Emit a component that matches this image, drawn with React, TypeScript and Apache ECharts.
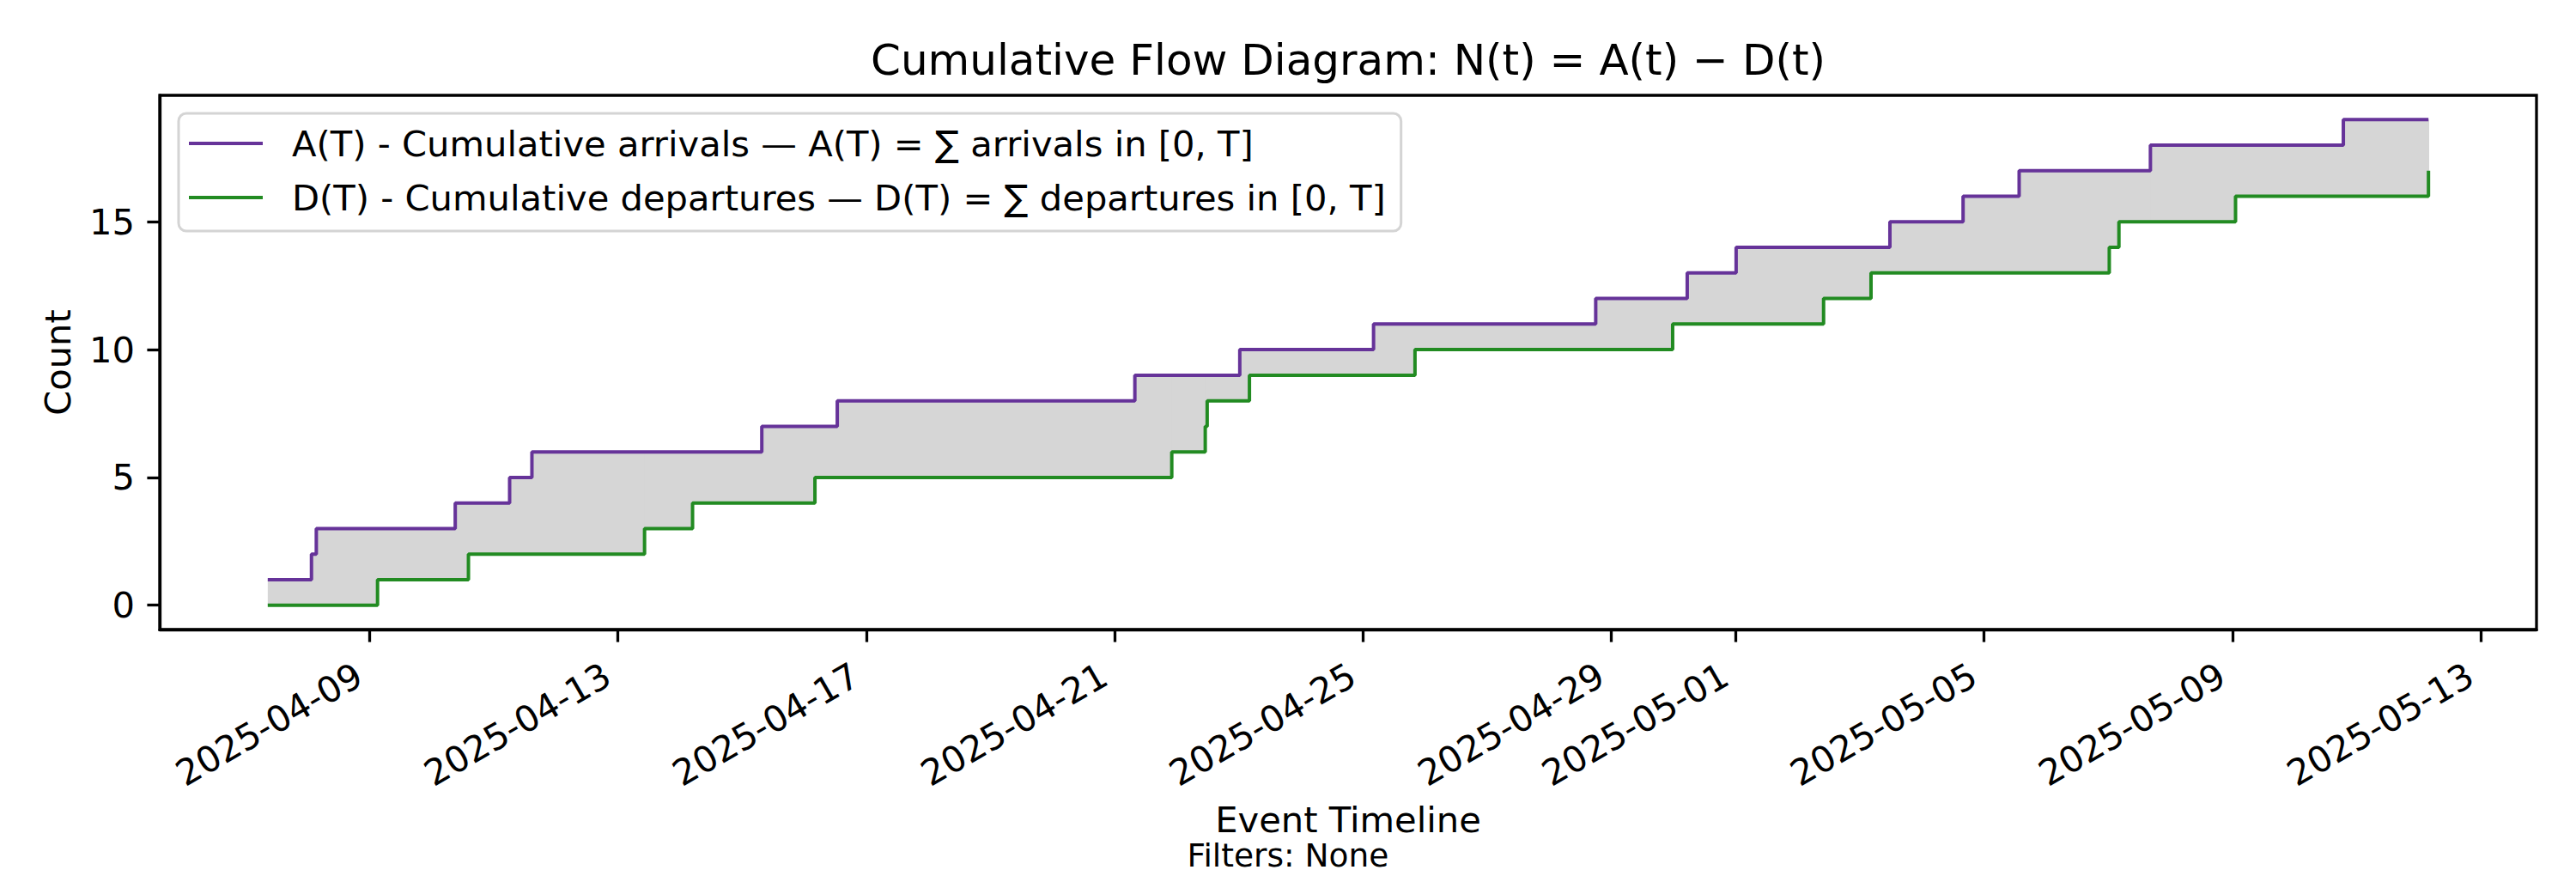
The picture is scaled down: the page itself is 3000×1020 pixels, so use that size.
import React, { useEffect, useRef } from "react";
import * as echarts from "echarts";

const FONT = "DejaVu Sans";

// Event times (UTC, minute precision)
const arrivalTimes = [
  "2025-04-07T08:41", "2025-04-08T01:35", "2025-04-08T03:27", "2025-04-10T09:09",
  "2025-04-11T06:10", "2025-04-11T14:47", "2025-04-15T07:38", "2025-04-16T12:48",
  "2025-04-21T07:49", "2025-04-23T00:22", "2025-04-25T04:04", "2025-04-28T17:56",
  "2025-04-30T05:18", "2025-05-01T00:12", "2025-05-03T11:38", "2025-05-04T15:55",
  "2025-05-05T13:35", "2025-05-07T16:19", "2025-05-10T18:53",
];
const departureTimes = [
  "2025-04-09T03:07", "2025-04-10T14:15", "2025-04-13T10:19", "2025-04-14T04:52",
  "2025-04-16T04:10", "2025-04-21T22:05", "2025-04-22T11:01", "2025-04-22T11:46",
  "2025-04-23T04:06", "2025-04-25T20:05", "2025-04-29T23:40", "2025-05-02T10:00",
  "2025-05-03T04:20", "2025-05-07T00:25", "2025-05-07T04:09", "2025-05-09T01:13",
  "2025-05-12T03:47",
];
const xTickDates = [
  "2025-04-09", "2025-04-13", "2025-04-17", "2025-04-21", "2025-04-25",
  "2025-04-29", "2025-05-01", "2025-05-05", "2025-05-09", "2025-05-13",
];
const yTickValues = [0, 5, 10, 15];

const nameA = "A(T) - Cumulative arrivals — A(T) = ∑ arrivals in [0, T]";
const nameD = "D(T) - Cumulative departures — D(T) = ∑ departures in [0, T]";
const titleText = "Cumulative Flow Diagram: N(t) = A(t) − D(t)";
const xLabel = "Event Timeline";
const yLabel = "Count";
const footText = "Filters: None";

const colorA = "#663399";
const colorD = "#228b22";
const fillColor = "#d6d6d6";

const ts = (s: string) => Date.parse(s + ":00Z");
const dayTs = (s: string) => Date.parse(s + "T00:00:00Z");

export default function App() {
  const ref = useRef<HTMLDivElement>(null);

  useEffect(() => {
    document.body.style.margin = "0";
    if (!ref.current) return;
    const chart = echarts.init(ref.current, undefined, { renderer: "svg" });

    const arr = arrivalTimes.map(ts);
    const dep = departureTimes.map(ts);
    const tStart = Math.min(arr[0], dep[0]);
    const tEnd = Math.max(arr[arr.length - 1], dep[dep.length - 1]);
    const span = tEnd - tStart;
    const xMin = tStart - 0.05 * span;
    const xMax = tEnd + 0.05 * span;

    const countAt = (list: number[], t: number) => list.filter((v) => v <= t).length;

    const aLine: [number, number][] = arr.map((t, i) => [t, i + 1]);
    aLine.push([tEnd, arr.length]);
    const dLine: [number, number][] = [[tStart, 0], ...dep.map((t, i) => [t, i + 1] as [number, number])];

    const union = Array.from(new Set([tStart, ...arr, ...dep, tEnd])).sort((a, b) => a - b);
    // each band segment: [t_i, t_{i+1}, D(t_i), A(t_i)]
    const bands: number[][] = [];
    for (let i = 0; i < union.length - 1; i++) {
      bands.push([union[i], union[i + 1], countAt(dep, union[i]), countAt(arr, union[i])]);
    }

    const fs = 41.67;
    const xTicks = xTickDates.map(dayTs);

    chart.setOption({
      animation: false,
      textStyle: { fontFamily: FONT },
      grid: {
        left: 186,
        right: 46,
        top: 111,
        bottom: 287,
        show: true,
        borderColor: "#000",
        borderWidth: 3.3,
        backgroundColor: "transparent",
        containLabel: false,
        outerBoundsMode: "none",
      },
      legend: {
        data: [nameA, nameD],
        orient: "vertical",
        left: 208,
        top: 132,
        padding: [10, 18, 14, 12],
        itemGap: 13,
        itemWidth: 86,
        itemHeight: 4,
        icon: "rect",
        borderColor: "#d4d4d4",
        borderWidth: 3,
        borderRadius: 9,
        backgroundColor: "rgba(255,255,255,0.8)",
        textStyle: {
          fontFamily: FONT,
          fontSize: fs,
          color: "#000",
          lineHeight: 50,
          padding: [0, 0, 0, 29],
        },
        selectedMode: false,
      },
      xAxis: {
        type: "value",
        min: xMin,
        max: xMax,
        scale: true,
        splitLine: { show: false },
        axisLine: { onZero: false, lineStyle: { color: "#000", width: 3.3 } },
        axisTick: {
          customValues: xTicks,
          length: 14.6,
          lineStyle: { color: "#000", width: 3.3 },
        },
        axisLabel: {
          customValues: xTicks,
          rotate: 30,
          margin: 43,
          padding: [0, 14, 0, 0],
          fontFamily: FONT,
          fontSize: fs,
          color: "#000",
          hideOverlap: false,
          formatter: (v: number) => new Date(v).toISOString().slice(0, 10),
        },
      },
      yAxis: {
        type: "value",
        min: -0.95,
        max: 19.95,
        splitLine: { show: false },
        axisLine: { show: true, onZero: false, lineStyle: { color: "#000", width: 3.3 } },
        axisTick: {
          show: true,
          customValues: yTickValues,
          length: 14.6,
          lineStyle: { color: "#000", width: 3.3 },
        },
        axisLabel: {
          customValues: yTickValues,
          margin: 29,
          fontFamily: FONT,
          fontSize: fs,
          color: "#000",
        },
      },
      series: [
        {
          name: "fill",
          type: "custom",
          data: bands,
          encode: { x: [0, 1], y: [2, 3] },
          silent: true,
          z: 1,
          renderItem: (params: any, api: any) => {
            const p1 = api.coord([api.value(0), api.value(3)]);
            const p2 = api.coord([api.value(1), api.value(2)]);
            return {
              type: "rect",
              shape: {
                x: p1[0],
                y: p1[1],
                width: p2[0] - p1[0] + 0.8,
                height: p2[1] - p1[1],
              },
              style: { fill: fillColor },
            };
          },
        },
        {
          name: nameA,
          type: "line",
          step: "end",
          data: aLine,
          symbol: "none",
          color: colorA,
          lineStyle: { color: colorA, width: 4 },
          z: 3,
        },
        {
          name: nameD,
          type: "line",
          step: "end",
          data: dLine,
          symbol: "none",
          color: colorD,
          lineStyle: { color: colorD, width: 4 },
          z: 3,
        },
      ],
      graphic: [
        {
          type: "text",
          x: 1570,
          y: 70,
          style: {
            text: titleText,
            fontFamily: FONT,
            fontSize: 50,
            fill: "#000",
            align: "center",
            verticalAlign: "middle",
          },
        },
        {
          type: "text",
          x: 67,
          y: 422,
          rotation: Math.PI / 2,
          style: {
            text: yLabel,
            fontFamily: FONT,
            fontSize: fs,
            fill: "#000",
            align: "center",
            verticalAlign: "middle",
          },
        },
        {
          type: "text",
          x: 1570,
          y: 954,
          style: {
            text: xLabel,
            fontFamily: FONT,
            fontSize: fs,
            lineHeight: 42,
            fill: "#000",
            align: "center",
            verticalAlign: "middle",
          },
        },
        {
          type: "text",
          x: 1500,
          y: 996,
          style: {
            text: footText,
            fontFamily: FONT,
            fontSize: 37.5,
            lineHeight: 37,
            fill: "#000",
            align: "center",
            verticalAlign: "middle",
          },
        },
      ],
    });

    return () => {
      chart.dispose();
    };
  }, []);

  return (
    <div
      ref={ref}
      style={{ position: "absolute", left: 0, top: 0, width: 3000, height: 1020, background: "#fff" }}
    />
  );
}
